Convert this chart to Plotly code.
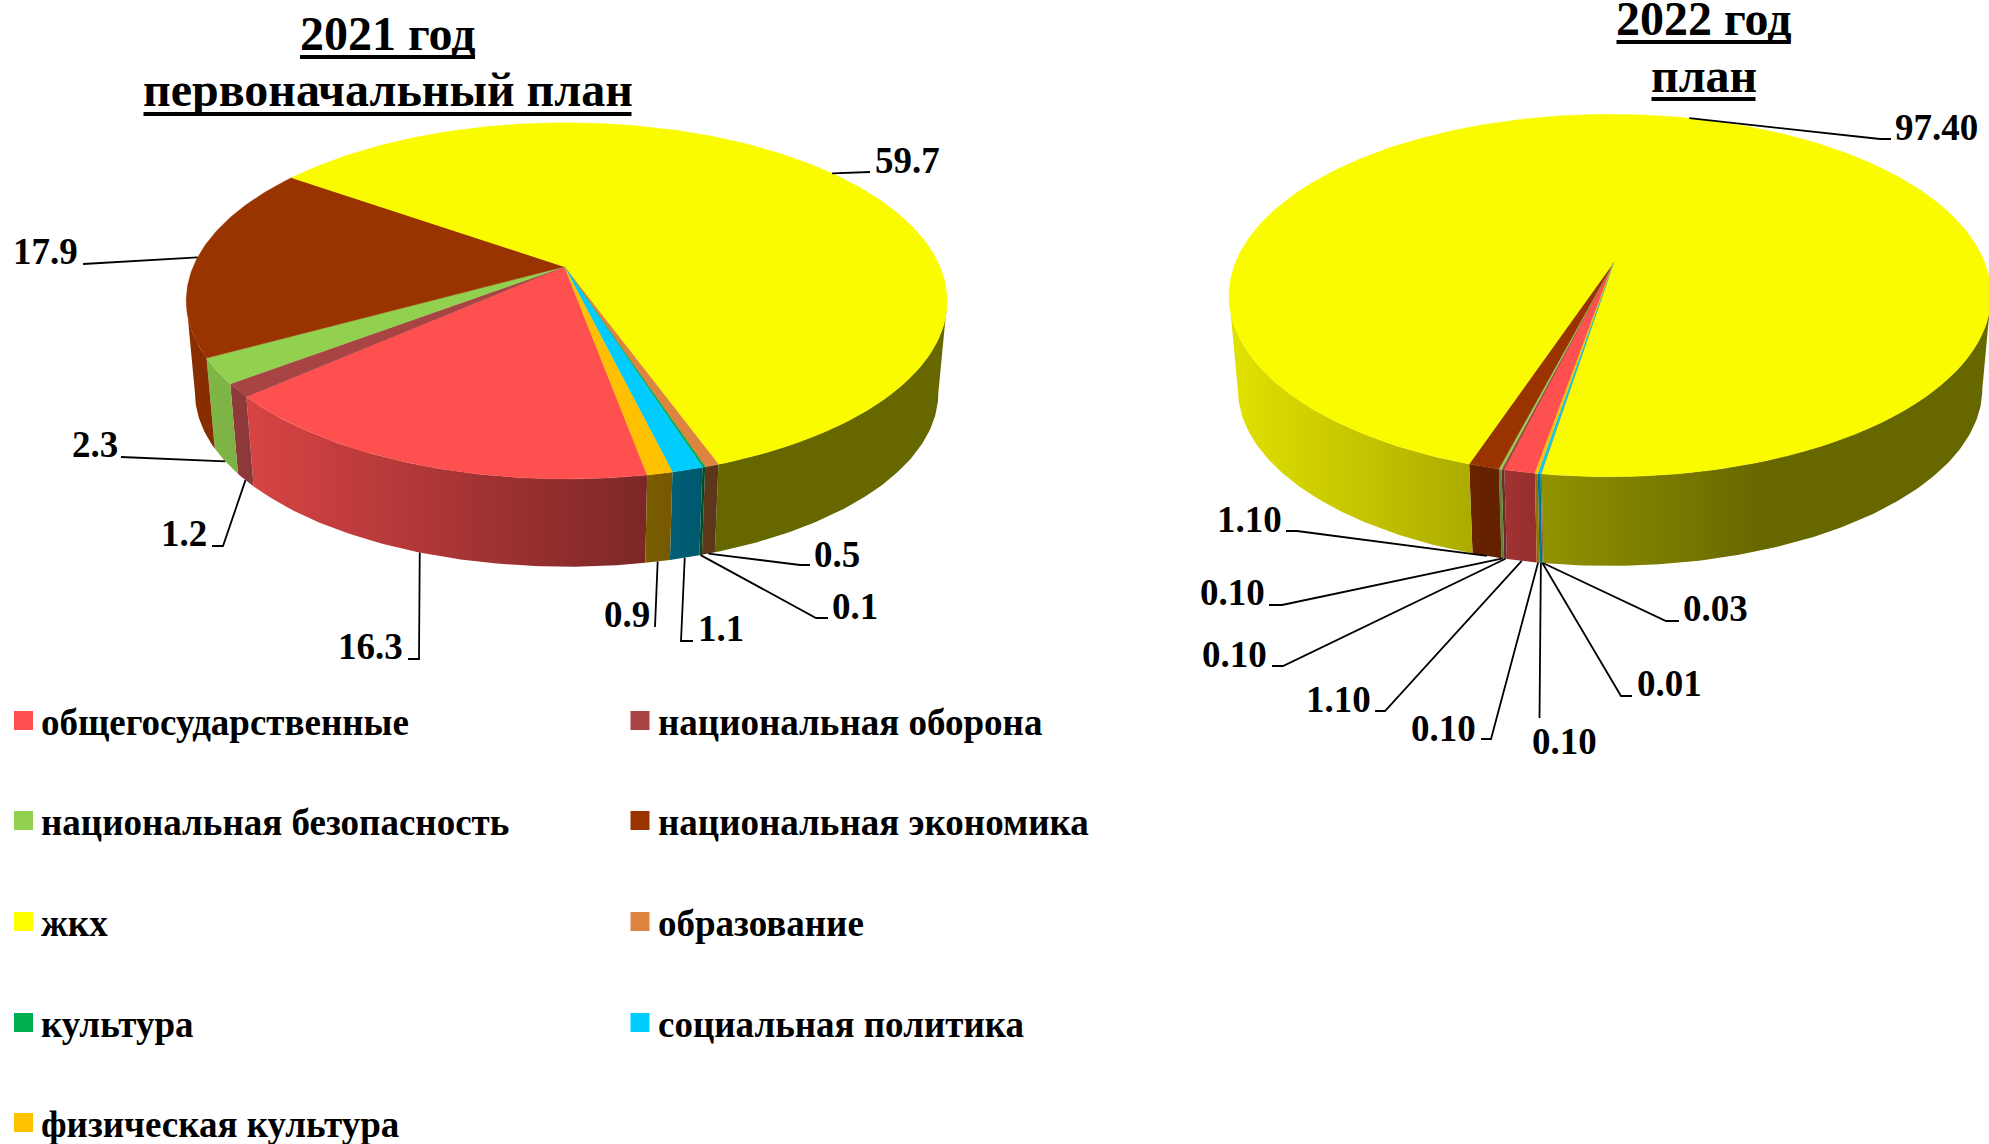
import math
import plotly.graph_objects as go

CATEGORIES = ["общегосударственные", "национальная оборона", "национальная безопасность",
              "национальная экономика", "жкх", "образование", "культура",
              "социальная политика", "физическая культура"]
VALUES_2021 = [16.3, 1.2, 2.3, 17.9, 59.7, 0.5, 0.1, 1.1, 0.9]
VALUES_2022 = [1.10, 0.10, 0.10, 1.10, 97.40, 0.03, 0.01, 0.10, 0.10]
COLORS = ["#FF5050", "#A84444", "#92D050", "#993300", "#FBFB00", "#DD8440", "#00B050", "#00CCFF", "#FFC000"]
LEGEND_COLORS = ["#FF5050", "#AA4444", "#92D050", "#993300", "#FFFF00", "#DD8440", "#00B050", "#00CCFF", "#FFC000"]
TITLE_2021 = ["2021 год", "первоначальный план"]
TITLE_2022 = ["2022 год", "план"]

FONT = "Liberation Serif"
W, H = 1989, 1144

# pie geometry in page pixels
LEFT = dict(ax=564.4, ay=266.7, a=373.4, b=171.6, k=0.1917, m=0.0059, d=92.6, s=0.977, start=169.65,
            xl=186, xr=947, shade=[(0, .90), (.6, .49), (.7, .41), (1, .41)])
RIGHT = dict(ax=1613.5, ay=262.7, a=374.7, b=175.3, k=0.181, m=-0.009, d=94.0, s=0.977, start=189.9,
             xl=1229, xr=1991, shade=[(0, .90), (.31, .69), (.41, .58), (.70, .41), (1, .41)])

# leader elbows and label anchors, category order
LEFT_LEADERS = [([(419, 659), (408, 659)], (404.5, 646.5, "right")),
                ([(223, 546), (212, 546)], (208.5, 533, "right")),
                ([(121, 457)], (119.5, 444, "right")),
                ([(83, 264)], (79.5, 251, "right")),
                ([(870, 172)], (872.5, 160, "left")),
                ([(800, 565), (810, 565)], (811.5, 554, "left")),
                ([(816, 618), (828, 618)], (829.5, 606, "left")),
                ([(681, 641), (693, 641)], (695.5, 628, "left")),
                ([(655, 627)], (651.5, 614, "right"))]
RIGHT_LEADERS = [([(1385, 711), (1375, 711)], (1372.5, 699, "right")),
                 ([(1283, 666), (1272, 666)], (1268.5, 654, "right")),
                 ([(1282, 605), (1269, 605)], (1266.5, 592, "right")),
                 ([(1297, 531), (1286, 531)], (1283.5, 519, "right")),
                 ([(1880, 139), (1891, 139)], (1892.5, 127, "left")),
                 ([(1666, 621), (1679, 621)], (1680.5, 608, "left")),
                 ([(1621, 696), (1632, 696)], (1634.5, 683, "left")),
                 ([(1539.5, 718)], (1564, 741, "center")),
                 ([(1491, 739), (1481, 739)], (1477.5, 728, "right"))]

LEGEND_X = [23.5, 640]
LEGEND_TEXT_X = [38.5, 655.5]
LEGEND_Y = [720.5, 820.5, 921.5, 1022.5, 1122.5]


def rim(p, deg, lower=False):
    t = math.radians(deg)
    u, v = math.sin(t), -math.cos(t)
    w = 1 - p["k"] * v - p["m"] * u
    s = p["s"] if lower else 1.0
    dy = p["d"] if lower else 0.0
    return p["ax"] + s * p["a"] * u / w, p["ay"] + dy + s * p["b"] * v / w


def arc(a, b):
    n = max(2, int(abs(b - a) / 0.75) + 1)
    return [a + (b - a) * i / n for i in range(n + 1)]


def hexrgb(c):
    return int(c[1:3], 16), int(c[3:5], 16), int(c[5:7], 16)


fig = go.Figure()


def draw_pie(p, values, leaders, decimals):
    total = sum(values)
    spans, cur = [], p["start"]
    for v in values:
        nxt = cur + 360 * v / total
        spans.append((cur, nxt))
        cur = nxt
    vis0 = math.degrees(math.acos(-p["k"]))
    vis1 = 360 - vis0
    for (a, b), col in zip(spans, COLORS):
        r, g, bl = hexrgb(col)
        for off in (-360, 0, 360):
            lo, hi = max(a + off, vis0), min(b + off, vis1)
            if hi <= lo:
                continue
            top = [rim(p, t) for t in arc(lo, hi)]
            bot = [rim(p, t, True) for t in arc(hi, lo)]
            pts = top + bot + top[:1]
            scale = [[s, f"rgb({r*f:.0f},{g*f:.0f},{bl*f:.0f})"] for s, f in p["shade"]]
            fig.add_trace(go.Scatter(
                x=[q[0] for q in pts], y=[q[1] for q in pts], mode="lines", fill="toself",
                line=dict(width=0), showlegend=False, hoverinfo="skip",
                fillgradient=dict(type="horizontal", colorscale=scale, start=p["xl"], stop=p["xr"])))
    for (a, b), col in zip(spans, COLORS):
        pts = [(p["ax"], p["ay"])] + [rim(p, t) for t in arc(a, b)] + [(p["ax"], p["ay"])]
        fig.add_trace(go.Scatter(
            x=[q[0] for q in pts], y=[q[1] for q in pts], mode="lines", fill="toself",
            fillcolor=col, line=dict(width=0.4, color=col), showlegend=False, hoverinfo="skip"))
    for (a, b), val, (elbows, (lx, ly, anchor)) in zip(spans, values, leaders):
        mid = (a + b) / 2
        t = math.radians(mid)
        lower = -math.cos(t) > p["k"]
        pts = [rim(p, mid, lower)] + elbows
        fig.add_trace(go.Scatter(x=[q[0] for q in pts], y=[q[1] for q in pts], mode="lines",
                                 line=dict(color="black", width=1.8), showlegend=False, hoverinfo="skip"))
        fig.add_annotation(x=lx, y=ly, text=f"<b>{val:.{decimals}f}</b>", showarrow=False,
                           xanchor=anchor, yanchor="middle", font=dict(family=FONT, size=37, color="black"))


draw_pie(LEFT, VALUES_2021, LEFT_LEADERS, 1)
draw_pie(RIGHT, VALUES_2022, RIGHT_LEADERS, 2)

for i, (cat, col) in enumerate(zip(CATEGORIES, LEGEND_COLORS)):
    c, r = i % 2, i // 2
    fig.add_trace(go.Scatter(x=[LEGEND_X[c]], y=[LEGEND_Y[r]], mode="markers", name=cat, showlegend=False,
                             hoverinfo="name", marker=dict(symbol="square", size=19, color=col, line=dict(width=0))))
    fig.add_annotation(x=LEGEND_TEXT_X[c], y=LEGEND_Y[r] + 2, text=f"<b>{cat}</b>", showarrow=False,
                       xanchor="left", yanchor="middle", font=dict(family=FONT, size=37, color="black"))

# titles with their heavy underlines: (line text, centre x, text y, rule y, rule half width)
for lines, cx, ys, rules, halves in ((TITLE_2021, 387.5, (33.5, 89.5), (57, 114), (87.5, 244)),
                                     (TITLE_2022, 1703.5, (18, 75.5), (42, 99), (87, 52))):
    for t, y, ry, hw in zip(lines, ys, rules, halves):
        fig.add_annotation(x=cx, y=y, text=f"<b>{t}</b>", showarrow=False, xanchor="center", yanchor="middle",
                           font=dict(family=FONT, size=48, color="black"))
        fig.add_shape(type="line", x0=cx - hw, x1=cx + hw, y0=ry, y1=ry, line=dict(color="black", width=4))

fig.update_layout(width=W, height=H, margin=dict(l=0, r=0, t=0, b=0), paper_bgcolor="white", plot_bgcolor="white",
                  showlegend=False,
                  xaxis=dict(range=[0, W], visible=False, fixedrange=True),
                  yaxis=dict(range=[H, 0], visible=False, fixedrange=True))
fig.write_html("out.html", config=dict(displayModeBar=False),
               post_script="document.body.style.margin='0';document.body.style.overflow='hidden';")
